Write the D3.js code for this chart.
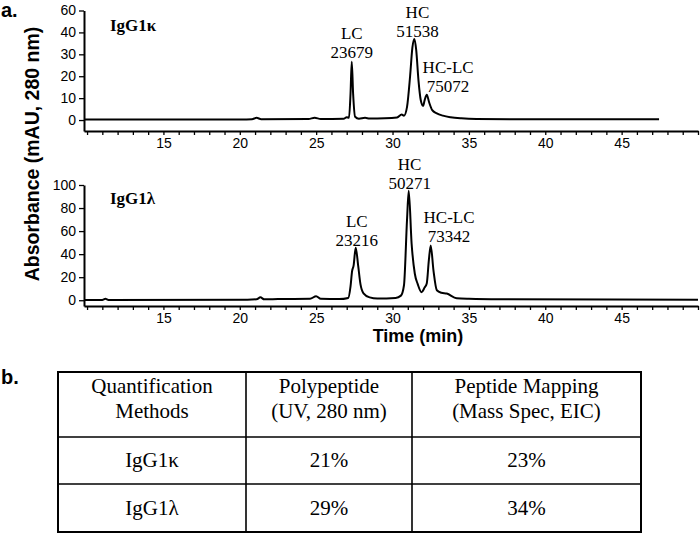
<!DOCTYPE html>
<html><head><meta charset="utf-8">
<script src="https://cdn.jsdelivr.net/npm/d3@7/dist/d3.min.js"></script>
<style>body{margin:0;background:#fff}</style>
</head><body>
<svg id="c" width="700" height="533"></svg>
<script>
// ---- data ----
const kappaTime = [9.8,12,15,20,20.8,21.1,21.4,24.5,24.9,25.3,26.8,27.0,27.15,27.25,27.33,27.42,27.55,27.8,28.2,28.5,29.5,30.3,30.6,30.75,30.95,31.15,31.3,31.43,31.55,31.7,31.85,32.0,32.1,32.24,32.4,32.6,32.9,33.3,33.8,34.5,35.5,38,47.45];
const kappaAbs  = [0.2,0.3,0.2,0.3,0.4,1.0,0.4,0.5,1.0,0.5,0.6,1.3,1.0,12,26.6,12,1.5,0.6,1.0,0.7,0.8,1.2,2.5,2.0,6,20,33,37,32,18,9,6.5,9,11.6,8,4.5,3,2,1.3,0.8,0.5,0.4,0.4];
const lambdaTime = [9.8,11.0,11.2,11.4,20.5,21.1,21.35,21.6,22.5,24.6,25.0,25.3,26.5,27.1,27.25,27.35,27.45,27.59,27.75,27.9,28.1,28.5,29,30.2,30.55,30.75,30.95,31.06,31.25,31.46,31.65,31.9,32.1,32.24,32.38,32.5,32.68,32.9,33.2,33.55,34.2,35,37,50];
const lambdaAbs  = [0.3,0.3,1.2,0.3,0.5,0.8,2.5,0.8,1.0,1.2,3.5,1.2,1.0,2,12,25,30,45.5,30,14,6,2.5,1.5,2,4,13,70,95,49,23,14,7,11,14.5,35,47.5,26,8.7,6.5,5.8,1.7,1.2,0.8,0.5];

const kappaYTicks = [0,10,20,30,40,50];
const kappaYTickLabels = ["0","10","20","30","40","60"];
const lambdaYTicks = [0,20,40,60,80,100];
const xMajorTicks = [15,20,25,30,35,40,45];

const kappaPeakNames  = ["LC","HC","HC-LC"];
const kappaPeakMasses = ["23679","51538","75072"];
const kappaPeakTimes  = [27.33,31.63,33.64];
const kappaPeakValues = [28.3,38.0,12.7];
const lambdaPeakNames  = ["LC","HC","HC-LC"];
const lambdaPeakMasses = ["23216","50271","73342"];
const lambdaPeakTimes  = [27.66,31.12,33.7];
const lambdaPeakValues = [47.5,96.5,50.5];

const tableHeader = [["Quantification","Methods"],["Polypeptide","(UV, 280 nm)"],["Peptide Mapping","(Mass Spec, EIC)"]];
const tableRowNames = ["IgG1\u03BA","IgG1\u03BB"];
const tablePolypeptide = ["21%","29%"];
const tablePeptideMapping = ["23%","34%"];

// ---- drawing ----
const svg = d3.select("#c");
const sans = "Arial, 'Liberation Sans', sans-serif";
const serif = "'Times New Roman', 'Liberation Serif', serif";

const x = d3.scaleLinear().domain([9.8, 50]).range([84, 698]);

function panel(opts){
  const y = d3.scaleLinear().domain(opts.yDomain).range(opts.yRange);
  const g = svg.append("g");
  const xa = d3.axisBottom(x).tickValues(d3.range(10,51)).tickSize(4).tickSizeOuter(0)
     .tickPadding(3).tickFormat(d => xMajorTicks.includes(d) ? d : "");
  const gx = g.append("g").attr("transform", `translate(0,${opts.yRange[0]})`).call(xa);
  gx.select(".domain").attr("stroke-width", 2);
  gx.selectAll(".tick line").attr("stroke-width", 1.3);
  gx.selectAll("text").attr("font-family", sans).attr("font-size", 14).attr("fill","#000");
  const ya = d3.axisLeft(y).tickValues(opts.yTicks).tickSize(5).tickSizeOuter(0).tickPadding(3)
     .tickFormat((d,i) => opts.yLabels[i]);
  const gy = g.append("g").attr("transform", `translate(${x.range()[0]},0)`).call(ya);
  gy.select(".domain").attr("stroke-width", 2);
  gy.selectAll(".tick line").attr("stroke-width", 1.3);
  gy.selectAll("text").attr("font-family", sans).attr("font-size", 14).attr("fill","#000");
  const pts = opts.t.map((t,i) => [t, opts.v[i]]);
  const line = d3.line().x(d => x(d[0])).y(d => y(d[1])).curve(d3.curveMonotoneX);
  g.append("path").attr("d", line(pts)).attr("fill","none").attr("stroke","#000")
    .attr("stroke-width", 2).attr("stroke-linejoin","round");
  g.append("text").attr("x", 110).attr("y", opts.nameY).text(opts.name)
    .attr("font-family", serif).attr("font-weight","bold").attr("font-size", 17);
  opts.pn.forEach((n,i) => {
    const cx = x(opts.pt[i]), by = y(opts.pv[i]);
    g.append("text").attr("x", cx).attr("y", by - 19).attr("text-anchor","middle")
      .attr("font-family", serif).attr("font-size", 17).text(n);
    g.append("text").attr("x", cx).attr("y", by).attr("text-anchor","middle")
      .attr("font-family", serif).attr("font-size", 17).text(opts.pm[i]);
  });
}

panel({yDomain:[-5,50], yRange:[131,10.5], yTicks:kappaYTicks, yLabels:kappaYTickLabels,
  t:kappaTime, v:kappaAbs, name:"IgG1\u03BA", nameY:31,
  pn:kappaPeakNames, pm:kappaPeakMasses, pt:kappaPeakTimes, pv:kappaPeakValues});
panel({yDomain:[-5,100], yRange:[306,185], yTicks:lambdaYTicks, yLabels:lambdaYTicks.map(String),
  t:lambdaTime, v:lambdaAbs, name:"IgG1\u03BB", nameY:204,
  pn:lambdaPeakNames, pm:lambdaPeakMasses, pt:lambdaPeakTimes, pv:lambdaPeakValues});

svg.append("text").attr("transform","translate(39,154) rotate(-90)").attr("text-anchor","middle")
  .attr("font-family", sans).attr("font-weight","bold").attr("font-size",19.5)
  .text("Absorbance (mAU, 280 nm)");
svg.append("text").attr("x",418).attr("y",342).attr("text-anchor","middle")
  .attr("font-family", sans).attr("font-weight","bold").attr("font-size",18).text("Time (min)");

svg.append("text").attr("x",1).attr("y",17).attr("font-family",sans).attr("font-weight","bold")
  .attr("font-size",20).text("a.");
svg.append("text").attr("x",1).attr("y",384).attr("font-family",sans).attr("font-weight","bold")
  .attr("font-size",20).text("b.");

const colX = [58, 246, 412, 641];
const rowY = [372, 437, 484, 532];
const tg = svg.append("g");
tg.append("rect").attr("x",colX[0]).attr("y",rowY[0]).attr("width",colX[3]-colX[0])
  .attr("height",rowY[3]-rowY[0]).attr("fill","none").attr("stroke","#000").attr("stroke-width",2);
colX.slice(1,3).forEach(cx => tg.append("line").attr("x1",cx).attr("x2",cx)
  .attr("y1",rowY[0]).attr("y2",rowY[3]).attr("stroke","#000").attr("stroke-width",1.6));
rowY.slice(1,3).forEach(ry => tg.append("line").attr("x1",colX[0]).attr("x2",colX[3])
  .attr("y1",ry).attr("y2",ry).attr("stroke","#000").attr("stroke-width",1.6));
const colC = [0,1,2].map(i => (colX[i]+colX[i+1])/2);
function cell(txt, cx, by){
  tg.append("text").attr("x",cx).attr("y",by).attr("text-anchor","middle")
    .attr("font-family",serif).attr("font-size",21).text(txt);
}
tableHeader.forEach((h,i) => { cell(h[0], colC[i], 393); cell(h[1], colC[i], 418); });
tableRowNames.forEach((r,i) => {
  const by = i === 0 ? 467 : 515;
  cell(r, colC[0], by);
  cell(tablePolypeptide[i], colC[1], by);
  cell(tablePeptideMapping[i], colC[2], by);
});
</script>
</body></html>
